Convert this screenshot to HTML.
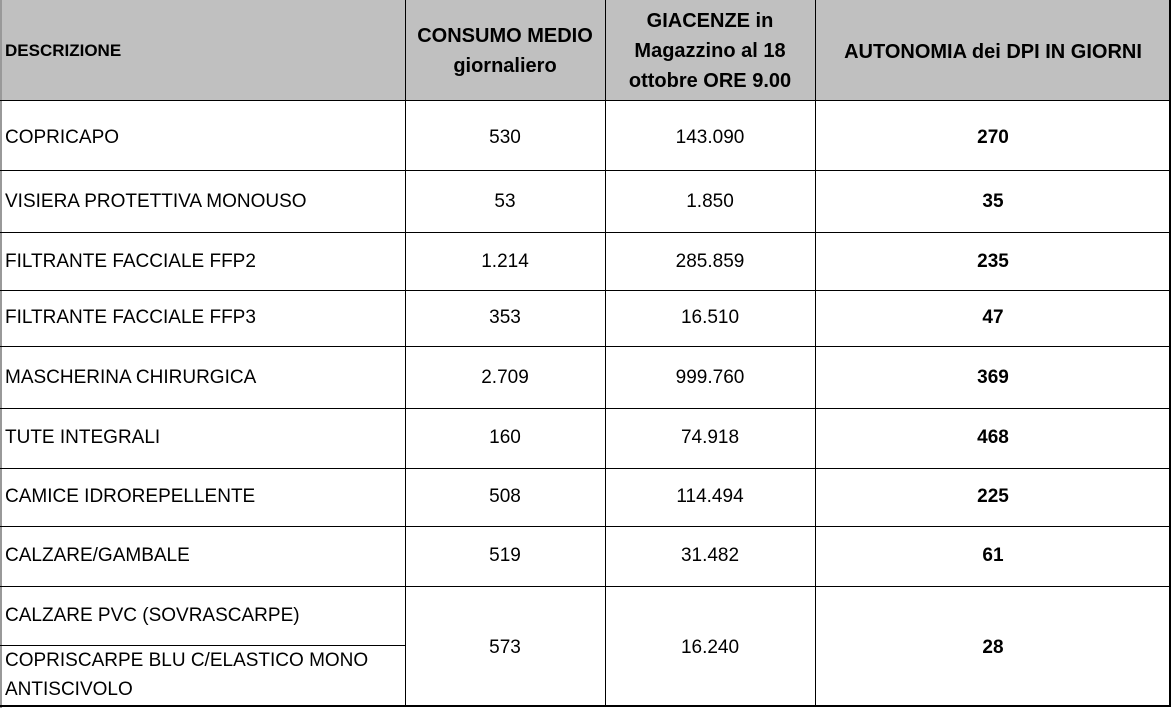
<!DOCTYPE html><html><head><style>
body{margin:0;width:1172px;height:708px;background:#fff;position:relative;font-family:"Liberation Sans",sans-serif;color:#000;overflow:hidden}
.h{position:absolute;left:0;top:0;width:1171px;height:100px;background:#c0c0c0}
.l{position:absolute;background:#000}
.t{position:absolute;font-size:19px;white-space:nowrap;transform:translateY(-50%)}
.c{text-align:center}
.b{font-weight:bold}
.hd{position:absolute;font-weight:bold;font-size:20px;text-align:center;line-height:30px;transform:translateY(-50%);white-space:nowrap}
</style></head><body>
<div class="h"></div>
<div class="l" style="left:0;top:0;width:2px;height:708px;background:#999"></div>
<div class="l" style="left:405px;top:0;width:1px;height:706px"></div>
<div class="l" style="left:605px;top:0;width:1px;height:706px"></div>
<div class="l" style="left:815px;top:0;width:1px;height:706px"></div>
<div class="l" style="left:1169px;top:0;width:2px;height:706px"></div>
<div class="l" style="left:0;top:100px;width:1171px;height:1px"></div>
<div class="l" style="left:0;top:170px;width:1171px;height:1px"></div>
<div class="l" style="left:0;top:232px;width:1171px;height:1px"></div>
<div class="l" style="left:0;top:290px;width:1171px;height:1px"></div>
<div class="l" style="left:0;top:346px;width:1171px;height:1px"></div>
<div class="l" style="left:0;top:408px;width:1171px;height:1px"></div>
<div class="l" style="left:0;top:468px;width:1171px;height:1px"></div>
<div class="l" style="left:0;top:526px;width:1171px;height:1px"></div>
<div class="l" style="left:0;top:586px;width:1171px;height:1px"></div>
<div class="l" style="left:0;top:645px;width:405px;height:1px"></div>
<div class="l" style="left:0;top:705px;width:1171px;height:2px"></div>

<div class="hd" style="left:5px;top:51px;font-size:17px;text-align:left">DESCRIZIONE</div>
<div class="hd" style="left:405px;width:200px;top:51px">CONSUMO MEDIO<br>giornaliero</div>
<div class="hd" style="left:605px;width:210px;top:51px">GIACENZE in<br>Magazzino al 18<br>ottobre ORE 9.00</div>
<div class="hd" style="left:815px;width:356px;top:52px">AUTONOMIA dei DPI IN GIORNI</div>

<div class="t" style="left:5px;top:138px">COPRICAPO</div>
<div class="t c" style="left:405px;width:200px;top:138px">530</div>
<div class="t c" style="left:605px;width:210px;top:138px">143.090</div>
<div class="t c b" style="left:815px;width:356px;top:138px">270</div>

<div class="t" style="left:5px;top:202px">VISIERA PROTETTIVA MONOUSO</div>
<div class="t c" style="left:405px;width:200px;top:202px">53</div>
<div class="t c" style="left:605px;width:210px;top:202px">1.850</div>
<div class="t c b" style="left:815px;width:356px;top:202px">35</div>

<div class="t" style="left:5px;top:262px">FILTRANTE FACCIALE FFP2</div>
<div class="t c" style="left:405px;width:200px;top:262px">1.214</div>
<div class="t c" style="left:605px;width:210px;top:262px">285.859</div>
<div class="t c b" style="left:815px;width:356px;top:262px">235</div>

<div class="t" style="left:5px;top:318px">FILTRANTE FACCIALE FFP3</div>
<div class="t c" style="left:405px;width:200px;top:318px">353</div>
<div class="t c" style="left:605px;width:210px;top:318px">16.510</div>
<div class="t c b" style="left:815px;width:356px;top:318px">47</div>

<div class="t" style="left:5px;top:378px">MASCHERINA CHIRURGICA</div>
<div class="t c" style="left:405px;width:200px;top:378px">2.709</div>
<div class="t c" style="left:605px;width:210px;top:378px">999.760</div>
<div class="t c b" style="left:815px;width:356px;top:378px">369</div>

<div class="t" style="left:5px;top:438px">TUTE INTEGRALI</div>
<div class="t c" style="left:405px;width:200px;top:438px">160</div>
<div class="t c" style="left:605px;width:210px;top:438px">74.918</div>
<div class="t c b" style="left:815px;width:356px;top:438px">468</div>

<div class="t" style="left:5px;top:497px">CAMICE IDROREPELLENTE</div>
<div class="t c" style="left:405px;width:200px;top:497px">508</div>
<div class="t c" style="left:605px;width:210px;top:497px">114.494</div>
<div class="t c b" style="left:815px;width:356px;top:497px">225</div>

<div class="t" style="left:5px;top:556px">CALZARE/GAMBALE</div>
<div class="t c" style="left:405px;width:200px;top:556px">519</div>
<div class="t c" style="left:605px;width:210px;top:556px">31.482</div>
<div class="t c b" style="left:815px;width:356px;top:556px">61</div>

<div class="t" style="left:5px;top:616px">CALZARE PVC (SOVRASCARPE)</div>
<div class="t" style="left:5px;top:661px">COPRISCARPE BLU C/ELASTICO MONO</div>
<div class="t" style="left:5px;top:690px">ANTISCIVOLO</div>
<div class="t c" style="left:405px;width:200px;top:648px">573</div>
<div class="t c" style="left:605px;width:210px;top:648px">16.240</div>
<div class="t c b" style="left:815px;width:356px;top:648px">28</div>
</body></html>
